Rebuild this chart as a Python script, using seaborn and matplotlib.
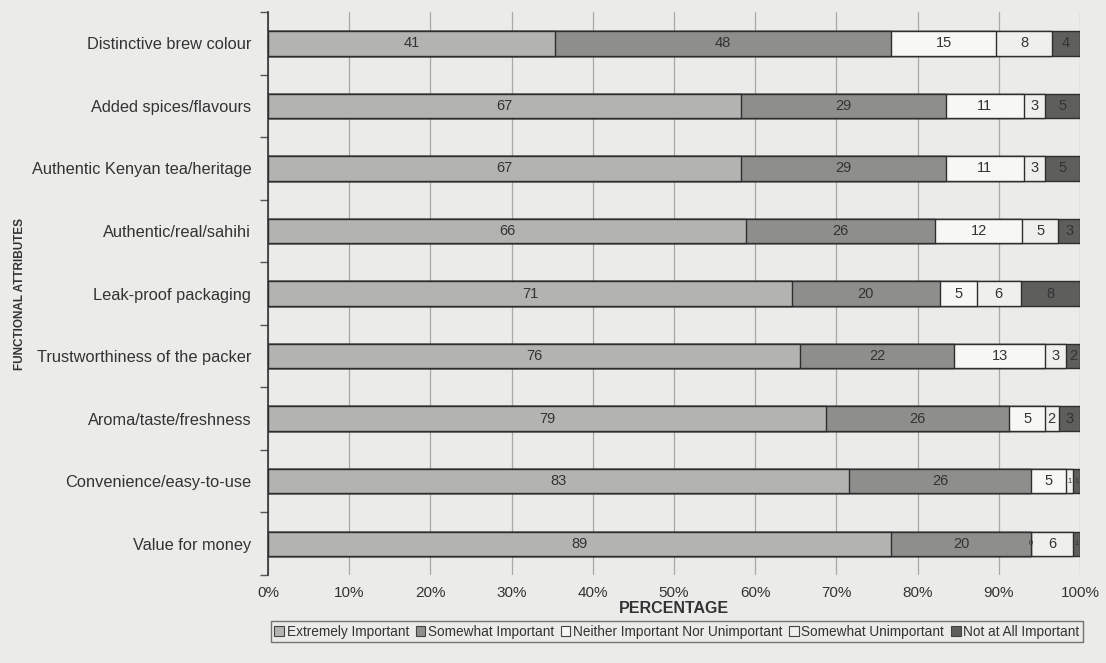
import matplotlib
matplotlib.use("Agg")
import matplotlib.pyplot as plt
from matplotlib.patches import Patch
from matplotlib.ticker import PercentFormatter, FixedLocator
import numpy as np
import pandas as pd
import seaborn as sns

# Survey responses per functional attribute (counts)
attributes = [
    "Distinctive brew colour",
    "Added spices/flavours",
    "Authentic Kenyan tea/heritage",
    "Authentic/real/sahihi",
    "Leak-proof packaging",
    "Trustworthiness of the packer",
    "Aroma/taste/freshness",
    "Convenience/easy-to-use",
    "Value for money",
]
extremely_important = [41, 67, 67, 66, 71, 76, 79, 83, 89]
somewhat_important = [48, 29, 29, 26, 20, 22, 26, 26, 20]
neither = [15, 11, 11, 12, 5, 13, 5, 5, 0]
somewhat_unimportant = [8, 3, 3, 5, 6, 3, 2, 1, 6]
not_at_all_important = [4, 5, 5, 3, 8, 2, 3, 1, 1]

levels = [
    "Extremely Important",
    "Somewhat Important",
    "Neither Important Nor Unimportant",
    "Somewhat Unimportant",
    "Not at All Important",
]
series = [extremely_important, somewhat_important, neither,
          somewhat_unimportant, not_at_all_important]
colors = ["#b3b3b1", "#8e8e8c", "#f7f7f5", "#efefed", "#5e5e5c"]

counts = pd.DataFrame(dict(zip(levels, series)), index=attributes)
shares = counts.div(counts.sum(axis=1), axis=0)
cumulative = shares.cumsum(axis=1)

sns.set_theme(style="white")
plt.rcParams["font.family"] = ["Liberation Sans", "DejaVu Sans"]
text_color = "#333333"
bg = "#ebebe9"

fig = plt.figure(figsize=(11.06, 6.63), dpi=100, facecolor=bg)
ax = fig.add_axes([0.2423, 0.1327, 0.7342, 0.849])
ax.set_facecolor(bg)

# Stack by overlaying cumulative totals, widest first
for level, color in reversed(list(zip(levels, colors))):
    plot_df = pd.DataFrame({"attr": attributes, "value": cumulative[level].values})
    sns.barplot(data=plot_df, x="value", y="attr", orient="h", color=color,
                saturation=1, width=0.39, edgecolor="#2e2e2e", linewidth=1.0,
                ax=ax, zorder=3)

# Segment value labels
for level in levels:
    centers = cumulative[level] - shares[level] / 2
    for i, attr in enumerate(attributes):
        val = counts.loc[attr, level]
        fs = 10.5 if shares.loc[attr, level] > 0.012 else 5.5
        ax.text(centers[attr], i, str(val), ha="center", va="center",
                fontsize=fs, color=text_color, zorder=5)

ax.set_xlim(0, 1)
ax.set_ylim(len(attributes) - 0.5, -0.5)
ax.xaxis.set_major_locator(FixedLocator(np.linspace(0, 1, 11)))
ax.xaxis.set_major_formatter(PercentFormatter(xmax=1, decimals=0))
ax.grid(axis="x", color="#a8a8a6", linewidth=0.9, zorder=0)
ax.grid(axis="y", visible=False)

# Category boundary ticks on the left spine
ax.yaxis.set_minor_locator(FixedLocator(np.arange(-0.5, len(attributes), 1.0)))
ax.tick_params(axis="y", which="major", length=0, pad=12, labelsize=11.8,
               labelcolor=text_color)
ax.tick_params(axis="y", which="minor", length=6, width=1, color="#555555",
               left=True, direction="out")
ax.tick_params(axis="x", length=0, pad=8, labelsize=11, labelcolor=text_color)

for side in ["top", "right", "bottom"]:
    ax.spines[side].set_visible(False)
ax.spines["left"].set_color("#333333")
ax.spines["left"].set_linewidth(1.2)

ax.set_xlabel("PERCENTAGE", fontsize=11.5, fontweight="bold", color=text_color)
ax.xaxis.set_label_coords(0.5, -0.047)
ax.set_ylabel("FUNCTIONAL ATTRIBUTES", fontsize=8.5, fontweight="semibold",
              color=text_color)
ax.yaxis.set_label_coords(-0.298, 0.5)

handles = [Patch(facecolor=c, edgecolor="#444444", linewidth=0.8) for c in colors]
leg = fig.legend(handles, levels, loc="center", bbox_to_anchor=(0.612, 0.047),
                 ncol=5, frameon=True, fontsize=9.8, handlelength=0.7,
                 handleheight=0.7, handletextpad=0.2, columnspacing=0.5,
                 borderpad=0.25, fancybox=False, labelcolor=text_color)
leg.get_frame().set_edgecolor("#555555")
leg.get_frame().set_facecolor(bg)
leg.get_frame().set_linewidth(1.0)

fig.savefig("out.png", dpi=100, facecolor=bg)
